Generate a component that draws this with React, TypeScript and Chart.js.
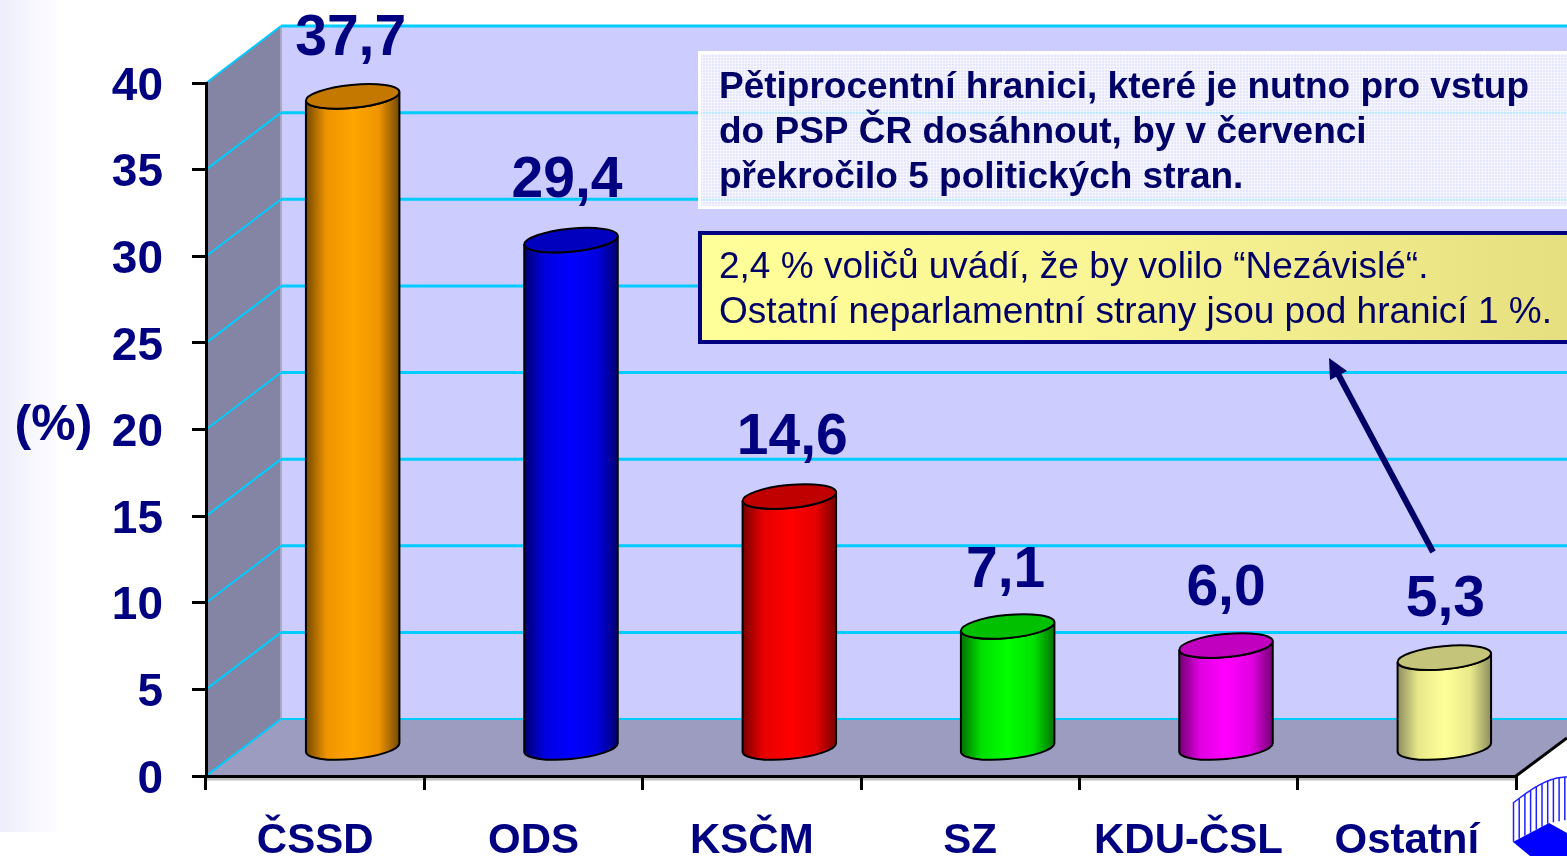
import React, { useEffect, useRef } from "react";
import { Chart, registerables } from "chart.js";

Chart.register(...registerables);

const parties = ["ČSSD", "ODS", "KSČM", "SZ", "KDU-ČSL", "Ostatní"];
const shares = [37.7, 29.4, 14.6, 7.1, 6.0, 5.3];
const shareLabels = ["37,7", "29,4", "14,6", "7,1", "6,0", "5,3"];
const bodyColors = ["#FFA500", "#0000FF", "#FF0000", "#00FF00", "#FF00FF", "#FFFF99"];
const sideColors = ["#EE9400", "#0000E0", "#E60000", "#00E000", "#E000E0", "#E8E88A"];
const capColors = ["#C47800", "#0000BE", "#C00000", "#00C000", "#C000BE", "#C4C47A"];
const edgeColors = ["#744800", "#000070", "#780000", "#007000", "#700070", "#8C8C60"];
const labelNudgeX = [-2, -4, 3, -2, 0, 1];
const labelNudgeY = [1, -1, -1, 3, 1, 0];
const boxTitle = [
  "Pětiprocentní hranici, které je nutno pro vstup",
  "do PSP ČR dosáhnout, by v červenci",
  "překročilo 5 politických stran.",
];
const boxNote = [
  "2,4 % voličů uvádí, že by volilo “Nezávislé“.",
  "Ostatní neparlamentní strany jsou pod hranicí 1 %.",
];
const yTitle = "(%)";

const NAVY = "#000080";
const DEPTH_X = 75;
const DEPTH_Y = -57;
const W = 1567;
const H = 856;
const TILT = (-5.5 * Math.PI) / 180;
const RY = 11.5;

function poly(ctx: CanvasRenderingContext2D, pts: number[][], fill: string) {
  ctx.beginPath();
  pts.forEach((p, i) => (i ? ctx.lineTo(p[0], p[1]) : ctx.moveTo(p[0], p[1])));
  ctx.closePath();
  ctx.fillStyle = fill;
  ctx.fill();
}

function meshPattern(ctx: CanvasRenderingContext2D) {
  const c = document.createElement("canvas");
  c.width = 3;
  c.height = 3;
  const p = c.getContext("2d") as CanvasRenderingContext2D;
  p.fillStyle = "rgba(236,236,255,0.82)";
  p.fillRect(0, 0, 3, 3);
  p.fillStyle = "rgba(255,255,255,0.55)";
  p.fillRect(0, 0, 3, 1);
  p.fillRect(0, 0, 1, 3);
  return ctx.createPattern(c, "repeat") as CanvasPattern;
}

const stage = {
  id: "stage",
  beforeDraw(chart: any) {
    const { ctx, chartArea: a, scales } = chart;
    const y = scales.y;
    const bx = a.left + DEPTH_X;
    const topB = a.top + DEPTH_Y;
    const botB = a.bottom + DEPTH_Y;
    ctx.save();
    ctx.fillStyle = "#FFFFFF";
    ctx.fillRect(0, 0, W, H);
    const g = ctx.createLinearGradient(0, 0, 65, 0);
    g.addColorStop(0, "#EEEEFC");
    g.addColorStop(1, "#FFFFFF");
    ctx.fillStyle = g;
    ctx.fillRect(0, 0, 65, 832);

    ctx.fillStyle = "#CCCCFF";
    ctx.fillRect(bx, topB, W - bx, botB - topB);
    poly(ctx, [[a.left, a.top], [bx, topB], [bx, botB], [a.left, a.bottom]], "#8484A4");
    poly(ctx, [[a.left, a.bottom], [bx, botB], [W, botB], [W, a.bottom - 38], [a.right, a.bottom]], "#9C9CC0");

    ctx.strokeStyle = "#A8A8C0";
    ctx.lineWidth = 2;
    ctx.beginPath();
    ctx.moveTo(bx, topB);
    ctx.lineTo(bx, botB);
    ctx.stroke();

    y.ticks.forEach((t: any) => {
      const py = y.getPixelForValue(t.value);
      ctx.strokeStyle = "#00CCFF";
      ctx.lineWidth = 2;
      ctx.beginPath();
      ctx.moveTo(a.left, py);
      ctx.lineTo(bx, py + DEPTH_Y);
      ctx.stroke();
      ctx.lineWidth = t.value === 0 ? 2 : 3;
      ctx.beginPath();
      ctx.moveTo(bx, py + DEPTH_Y);
      ctx.lineTo(W, py + DEPTH_Y);
      ctx.stroke();
    });

    ctx.strokeStyle = "#C0C0C0";
    ctx.lineWidth = 3;
    ctx.beginPath();
    ctx.moveTo(a.left, a.bottom + 3);
    ctx.lineTo(a.right, a.bottom + 3);
    ctx.stroke();
    ctx.strokeStyle = "#000000";
    ctx.lineWidth = 3;
    ctx.beginPath();
    ctx.moveTo(a.right, a.bottom);
    ctx.lineTo(W, a.bottom - 38);
    ctx.stroke();

    // corner logo
    poly(ctx, [[1513, 842], [1549, 823], [1567, 833], [1567, 856], [1530, 856]], "#0000FF");
    ctx.strokeStyle = "#2020FF";
    ctx.lineWidth = 1.5;
    for (let i = 0; i < 10; i++) {
      const x = 1513.5 + i * 5.7;
      const top = 803 - 26 * Math.sin((((x - 1513) / 54) * Math.PI) / 2);
      const bot = x < 1549 ? 842 - ((x - 1513) / 36) * 19 : 823 - ((x - 1549) / 18) * 3;
      ctx.beginPath();
      ctx.moveTo(x, top);
      ctx.lineTo(x, bot);
      ctx.stroke();
    }
    ctx.beginPath();
    for (let x = 1513; x <= 1567; x += 2) {
      const top = 803 - 26 * Math.sin((((x - 1513) / 54) * Math.PI) / 2);
      if (x === 1513) ctx.moveTo(x, top);
      else ctx.lineTo(x, top);
    }
    ctx.stroke();
    ctx.restore();
  },
  afterDatasetsDraw(chart: any) {
    const { ctx, scales } = chart;
    const meta = chart.getDatasetMeta(0);
    ctx.save();
    meta.data.forEach((el: any, i: number) => {
      const dx = DEPTH_X / 2;
      const dy = DEPTH_Y / 2 + 2;
      const cx = el.x + dx;
      const topY = el.y + dy;
      const baseY = scales.y.getPixelForValue(0) + dy - 2;
      const rx = el.width / 2;
      const t0 = Math.atan((-RY / rx) * Math.tan(TILT));
      const tip = (t: number) => [
        rx * Math.cos(t) * Math.cos(TILT) - RY * Math.sin(t) * Math.sin(TILT),
        rx * Math.cos(t) * Math.sin(TILT) + RY * Math.sin(t) * Math.cos(TILT),
      ];
      const r = tip(t0);
      const l = tip(t0 + Math.PI);
      const grad = ctx.createLinearGradient(cx - rx, 0, cx + rx, 0);
      grad.addColorStop(0, edgeColors[i]);
      grad.addColorStop(0.22, sideColors[i]);
      grad.addColorStop(0.5, bodyColors[i]);
      grad.addColorStop(0.78, sideColors[i]);
      grad.addColorStop(1, edgeColors[i]);
      ctx.beginPath();
      ctx.moveTo(cx + l[0], topY + l[1]);
      ctx.lineTo(cx + l[0], baseY + l[1]);
      ctx.ellipse(cx, baseY, rx, RY, TILT, t0 + Math.PI, t0, true);
      ctx.lineTo(cx + r[0], topY + r[1]);
      ctx.ellipse(cx, topY, rx, RY, TILT, t0, t0 + Math.PI, false);
      ctx.closePath();
      ctx.fillStyle = grad;
      ctx.fill();
      ctx.strokeStyle = "#000000";
      ctx.lineWidth = 2;
      ctx.stroke();
      ctx.beginPath();
      ctx.ellipse(cx, topY, rx, RY, TILT, 0, Math.PI * 2);
      ctx.fillStyle = capColors[i];
      ctx.fill();
      ctx.stroke();

      ctx.fillStyle = NAVY;
      ctx.font = "bold 57px 'Liberation Sans'";
      ctx.textAlign = "center";
      ctx.textBaseline = "alphabetic";
      ctx.fillText(shareLabels[i], cx + labelNudgeX[i], topY - 42 + labelNudgeY[i]);
    });

    // title box
    ctx.fillStyle = meshPattern(ctx);
    ctx.fillRect(698, 51, W - 698, 158);
    ctx.strokeStyle = "#FFFFFF";
    ctx.lineWidth = 3;
    ctx.strokeRect(699.5, 52.5, W, 155);
    ctx.fillStyle = "#000066";
    ctx.font = "bold 37px 'Liberation Sans'";
    ctx.textAlign = "left";
    boxTitle.forEach((s, i) => ctx.fillText(s, 719, 98 + i * 45));

    // note box
    const ng = ctx.createLinearGradient(698, 0, W, 0);
    ng.addColorStop(0, "#FFFF99");
    ng.addColorStop(0.5, "#F8F494");
    ng.addColorStop(1, "#E6DF80");
    ctx.fillStyle = ng;
    ctx.fillRect(698, 231, W - 698, 113);
    ctx.strokeStyle = NAVY;
    ctx.lineWidth = 4;
    ctx.strokeRect(700, 233, W, 109);
    ctx.fillStyle = "#000066";
    ctx.font = "37px 'Liberation Sans'";
    boxNote.forEach((s, i) => ctx.fillText(s, 719, 278 + i * 45));

    // arrow
    ctx.strokeStyle = "#000066";
    ctx.lineWidth = 6;
    ctx.beginPath();
    ctx.moveTo(1433, 552);
    ctx.lineTo(1337, 372);
    ctx.stroke();
    poly(ctx, [[1329, 358], [1330, 380], [1347, 371]], "#000066");

    // axis title
    ctx.fillStyle = NAVY;
    ctx.font = "bold 50px 'Liberation Sans'";
    ctx.textAlign = "center";
    ctx.textBaseline = "middle";
    ctx.fillText(yTitle, 53.5, 426);
    ctx.restore();
  },
};

export default function App() {
  const ref = useRef<HTMLCanvasElement>(null);
  useEffect(() => {
    document.body.style.margin = "0";
    document.body.style.overflow = "hidden";
    const chart = new Chart(ref.current as HTMLCanvasElement, {
      type: "bar",
      data: {
        labels: parties,
        datasets: [
          {
            data: shares,
            backgroundColor: "rgba(0,0,0,0)",
            borderWidth: 0,
            barPercentage: 0.43,
            categoryPercentage: 1,
          },
        ],
      },
      options: {
        animation: false,
        responsive: false,
        maintainAspectRatio: false,
        layout: { padding: { top: 83, right: 51, left: 0, bottom: 0 } },
        plugins: { legend: { display: false }, tooltip: { enabled: false }, title: { display: false } },
        scales: {
          x: {
            afterFit: (s: any) => {
              s.height = 80;
            },
            grid: { drawOnChartArea: false, drawTicks: true, tickLength: 14, color: "#000000", lineWidth: 3, offset: true },
            border: { display: true, color: "#000000", width: 3 },
            ticks: {
              color: NAVY,
              font: { family: "'Liberation Sans'", size: 42, weight: "bold" },
              padding: 26,
              maxRotation: 0,
              autoSkip: false,
            },
          },
          y: {
            min: 0,
            max: 40,
            afterFit: (s: any) => {
              s.width = 206;
            },
            grid: { drawOnChartArea: false, drawTicks: true, tickLength: 14, color: "#000000", lineWidth: 3 },
            border: { display: true, color: "#000000", width: 3 },
            ticks: {
              stepSize: 5,
              color: NAVY,
              font: { family: "'Liberation Sans'", size: 46, weight: "bold" },
              padding: 29,
              labelOffset: 4,
            },
          },
        },
      },
      plugins: [stage],
    } as any);
    return () => chart.destroy();
  }, []);
  return <canvas ref={ref} width={W} height={H} style={{ display: "block", width: W, height: H }} />;
}
